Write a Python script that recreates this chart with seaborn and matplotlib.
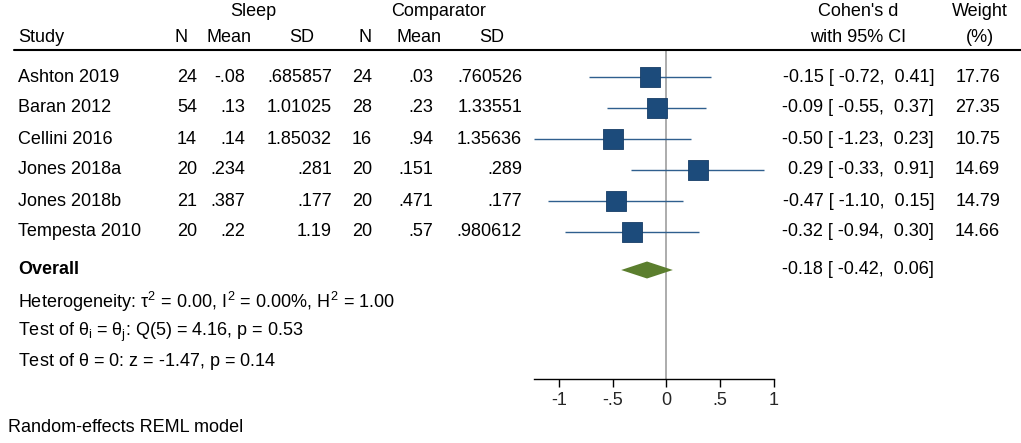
import numpy as np
import pandas as pd
import matplotlib
matplotlib.use("Agg")
import matplotlib.pyplot as plt
import matplotlib.transforms as mtransforms
import seaborn as sns

# ---------------- data ----------------
studies = ["Ashton 2019", "Baran 2012", "Cellini 2016", "Jones 2018a", "Jones 2018b", "Tempesta 2010"]
sleep_n = [24, 54, 14, 20, 21, 20]
sleep_mean = [-0.08, 0.13, 0.14, 0.234, 0.387, 0.22]
sleep_sd = [0.685857, 1.01025, 1.85032, 0.281, 0.177, 1.19]
comp_n = [24, 28, 16, 20, 20, 20]
comp_mean = [0.03, 0.23, 0.94, 0.151, 0.471, 0.57]
comp_sd = [0.760526, 1.33551, 1.35636, 0.289, 0.177, 0.980612]
cohen_d = [-0.15, -0.09, -0.50, 0.29, -0.47, -0.32]
ci_low = [-0.72, -0.55, -1.23, -0.33, -1.10, -0.94]
ci_high = [0.41, 0.37, 0.23, 0.91, 0.15, 0.30]
weights = [17.76, 27.35, 10.75, 14.69, 14.79, 14.66]
overall_d, overall_lo, overall_hi = -0.18, -0.42, 0.06
het_text = r"Heterogeneity: $\tau^2$ = 0.00, $I^2$ = 0.00%, $H^2$ = 1.00"
qtest_text = r"Test of $\theta_{i}$ = $\theta_{j}$: Q(5) = 4.16, p = 0.53"
ztest_text = r"Test of $\theta$ = 0: z = -1.47, p = 0.14"
model_text = "Random-effects REML model"
x_ticks = [-1, -0.5, 0, 0.5, 1]
x_ticklabels = ["-1", "-.5", "0", ".5", "1"]

df = pd.DataFrame({"study": studies, "d": cohen_d, "lo": ci_low, "hi": ci_high,
                   "w": weights, "row": np.arange(len(studies))})

# ---------------- style ----------------
sns.set_theme(style="white")
plt.rcParams["font.family"] = ["Liberation Sans", "DejaVu Sans"]
plt.rcParams["mathtext.fontset"] = "custom"
plt.rcParams["mathtext.rm"] = "Liberation Sans"
plt.rcParams["mathtext.it"] = "Liberation Sans"
plt.rcParams["mathtext.bf"] = "Liberation Sans:bold"

W, H = 1021, 443
FS = 13
fig = plt.figure(figsize=(W / 100, H / 100), dpi=100)
fig.patch.set_facecolor("white")

# plot panel in pixel layout
ax_l, ax_r, ax_t, ax_b = 534, 774, 50, 379
ax = fig.add_axes([ax_l / W, (H - ax_b) / H, (ax_r - ax_l) / W, (ax_b - ax_t) / H])
row0, row_step = 77, 31
def prow(py):
    return (py - row0) / row_step
ax.set_xlim(-1.23, 1.0)
ax.set_ylim(prow(ax_b), prow(ax_t))

blue = "#1c4b7b"
line_blue = "#2f5f8e"
green = "#5b7e2e"

ax.axvline(0, color="#a6a6a6", lw=1.3, zorder=1)
ax.hlines(df["row"], df["lo"], df["hi"], color=line_blue, lw=1.0, zorder=2)
sns.scatterplot(data=df, x="d", y="row", marker="s", s=205, color=blue,
                edgecolor="#163d66", linewidth=0.6, ax=ax, zorder=3, legend=False)

ov_row = prow(270)
hh = 8.5 / row_step
ax.fill([overall_lo, overall_d, overall_hi, overall_d],
        [ov_row, ov_row - hh, ov_row, ov_row + hh], color=green, lw=0, zorder=3)

for s in ["top", "right", "left"]:
    ax.spines[s].set_visible(False)
ax.spines["bottom"].set_color("black")
ax.spines["bottom"].set_linewidth(1.0)
ax.set_xticks(x_ticks)
ax.set_xticklabels(x_ticklabels, fontsize=FS)
ax.tick_params(axis="x", direction="out", length=5.5, width=1.0, color="black", pad=4,
               bottom=True)
ax.set_yticks([])
ax.set_xlabel("")
ax.set_ylabel("")

# ---------------- text table ----------------
tr = mtransforms.blended_transform_factory(fig.transFigure, ax.transData)
def txt(px, row, s, ha="left", **kw):
    ax.text(px / W, row, s, transform=tr, ha=ha, va="center", fontsize=FS,
            clip_on=False, color="black", **kw)

def fmt(v):
    s = f"{v:g}"
    if s.startswith("0."):
        s = s[1:]
    elif s.startswith("-0."):
        s = "-" + s[2:]
    return s

hr1, hr2 = prow(12), prow(37)
txt(253, hr1, "Sleep", ha="center")
txt(438.5, hr1, "Comparator", ha="center")
txt(858, hr1, "Cohen's d", ha="center")
txt(979.5, hr1, "Weight", ha="center")
txt(18, hr2, "Study")
txt(181.5, hr2, "N", ha="center")
txt(229, hr2, "Mean", ha="center")
txt(302, hr2, "SD", ha="center")
txt(365, hr2, "N", ha="center")
txt(419, hr2, "Mean", ha="center")
txt(491.5, hr2, "SD", ha="center")
txt(858, hr2, "with 95% CI", ha="center")
txt(980, hr2, "(%)", ha="center")

# header rule
fig.add_artist(plt.Line2D([14 / W, 1.0], [(H - 50) / H, (H - 50) / H],
                          color="black", lw=1.5, transform=fig.transFigure))

CI_R = 934
for i in range(len(studies)):
    txt(18, i, studies[i])
    txt(197, i, str(sleep_n[i]), ha="right")
    txt(245, i, fmt(sleep_mean[i]), ha="right")
    txt(332, i, fmt(sleep_sd[i]), ha="right")
    txt(372, i, str(comp_n[i]), ha="right")
    txt(433, i, fmt(comp_mean[i]), ha="right")
    txt(522, i, fmt(comp_sd[i]), ha="right")
    txt(CI_R, i, f"{cohen_d[i]:.2f} [{ci_low[i]:6.2f}, {ci_high[i]:5.2f}]", ha="right")
    txt(1000, i, f"{weights[i]:.2f}", ha="right")

txt(18, ov_row, "Overall", fontweight="bold")
txt(CI_R, ov_row, f"{overall_d:.2f} [{overall_lo:6.2f}, {overall_hi:5.2f}]", ha="right")
txt(18, prow(302), het_text)
txt(18, prow(332), qtest_text)
txt(18, prow(362), ztest_text)
txt(8, prow(427), model_text)

fig.savefig("out.png", dpi=100, facecolor="white")
